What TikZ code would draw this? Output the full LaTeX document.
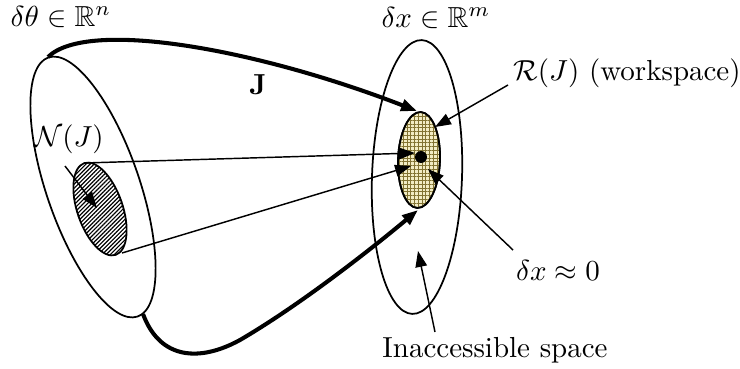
\documentclass[tikz,border=0pt]{standalone}
\usepackage{amssymb}
\usetikzlibrary{arrows.meta,patterns.meta}
\definecolor{gridcol}{RGB}{130,115,50}
\definecolor{beige}{RGB}{242,236,196}
\begin{document}
\begin{tikzpicture}[x=0.345pt,y=-0.345pt,
  thinline/.style={line width=0.5pt},
  ell/.style={line width=0.6pt},
  thickline/.style={line width=1.4pt},
  tip/.style={-{Triangle[length=5.5pt,width=4pt]}},
  lbl/.style={inner sep=0pt}]
\useasboundingbox (0,0) rectangle (740,369);
% left space
\draw[ell, rotate around={19:(93,187)}] (93,187) ellipse [x radius=46.5, y radius=137];
\draw[ell, fill=white, postaction={pattern={Lines[angle=45,distance=1pt,line width=0.4pt]}},
      rotate around={19:(100,209)}] (100,209) ellipse [x radius=22.7, y radius=48.5];
% right space
\draw[ell, rotate around={-2:(417,177)}] (417,177) ellipse [x radius=45, y radius=137];
\draw[ell, fill=beige, postaction={pattern={Hatch[angle=0,distance=1.3pt,line width=0.3pt]}, pattern color=gridcol},
      rotate around={-2:(419,160)}] (419,160) ellipse [x radius=21, y radius=48];
\draw[ell, rotate around={-2:(419,160)}] (419,160) ellipse [x radius=21, y radius=48];
% coordinates
\coordinate (Jstart) at (48,57);
\coordinate (Jend) at (417,111);
\coordinate (Lstart) at (143,314);
\coordinate (Lend) at (418,210);
\coordinate (Ntop) at (84,163);
\coordinate (Nbot) at (122,253);
\coordinate (dot) at (421,157);
\coordinate (tipA) at (415,153);
\coordinate (tipB) at (411,166);
\coordinate (nA) at (65,166);
\coordinate (nB) at (97,208);
\coordinate (rA) at (508,85);
\coordinate (rB) at (435,127);
\coordinate (zA) at (513,250);
\coordinate (zB) at (428,169);
\coordinate (iA) at (435,332);
\coordinate (iB) at (418,251);
% thick mapping curves
\draw[thickline, tip] (Jstart) .. controls (88,18) and (260,50) .. (Jend);
\draw[thickline, tip] (Lstart) .. controls (160,360) and (200,362) .. (240,340)
      .. controls (300,305) and (370,250) .. (Lend);
% null space mapping
\draw[thinline, tip] (Ntop) -- (tipA);
\draw[thinline, tip] (Nbot) -- (tipB);
\fill (dot) circle [radius=6];
% labels
\node[lbl] (thetaLbl) at (61,17) {$\delta\theta \in \mathbb{R}^n$};
\node[lbl] (xLbl) at (436,18) {$\delta x \in \mathbb{R}^m$};
\node[lbl] (JLbl) at (258,85) {$\mathbf{J}$};
\node[lbl] (NLbl) at (69,139) {$\mathcal{N}(J)$};
\node[lbl] (RLbl) at (627,73) {$\mathcal{R}(J)$ (workspace)};
\node[lbl] (zLbl) at (558,270) {$\delta x \approx 0$};
\node[lbl] (iLbl) at (495,350) {Inaccessible space};
% pointer arrows
\draw[thinline, tip] (nA) -- (nB);
\draw[thinline, tip] (rA) -- (rB);
\draw[thinline, tip] (zA) -- (zB);
\draw[thinline, tip] (iA) -- (iB);
\end{tikzpicture}
\end{document}
